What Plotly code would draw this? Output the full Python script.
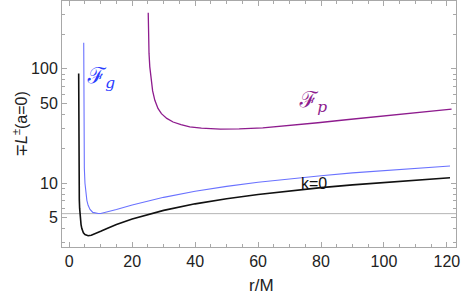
import plotly.graph_objects as go

# k=0 curve (black)
r_k0 = [3.0011, 3.002, 3.005, 3.01, 3.02, 3.035, 3.05, 3.075, 3.1, 3.15, 3.2, 3.3, 3.4, 3.5,
        3.75, 4, 4.5, 5, 5.5, 6, 7, 8, 9, 10, 12, 15, 20, 25, 30, 40, 50, 60, 70, 80, 90,
        100, 110, 121]
L_k0 = [91, 67.1, 42.5, 30.1, 21.4, 16.2, 13.6, 11.2, 9.80, 8.13, 7.16, 6.03, 5.38, 4.95,
        4.33, 4.0, 3.67, 3.54, 3.48, 3.464, 3.5, 3.58, 3.67, 3.78, 4.0, 4.33, 4.85, 5.33,
        5.77, 6.58, 7.29, 7.95, 8.55, 9.12, 9.65, 10.15, 10.63, 11.14]

# F_g curve (blue)
r_g = [4.601, 4.603, 4.605, 4.61, 4.62, 4.65, 4.7, 4.8, 5.0, 5.3, 5.6, 6.0, 6.6, 7.5, 8.5,
       9.2, 10, 12, 15, 20, 25, 30, 40, 50, 60, 70, 80, 90, 100, 110, 121]
L_g = [169, 105.9, 82.0, 58.1, 41.2, 26.2, 18.7, 13.5, 9.97, 7.98, 7.06, 6.39, 5.88, 5.54,
       5.42, 5.41, 5.42, 5.56, 5.86, 6.43, 6.97, 7.50, 8.47, 9.35, 10.16, 10.91, 11.60,
       12.27, 12.90, 13.49, 14.12]

# F_p curve (purple)
r_p = [25.1, 25.2, 25.35, 25.6, 26.0, 26.5, 27.2, 28.2, 29.3, 31, 33, 35.5, 38.3, 42, 48,
       54, 61.5, 70, 79, 88, 96, 104, 112, 121.5]
L_p = [309, 190, 137, 104, 79, 64, 53, 45, 40.5, 36.8, 34.2, 32.4, 31.0, 30.2, 29.7, 29.8,
       30.4, 31.8, 33.7, 35.8, 37.8, 39.8, 42.0, 44.4]

# horizontal reference line
ref_level = 5.4
ref_x = [-2.3, 122.9]

x_ticks = [0, 20, 40, 60, 80, 100, 120]
y_ticks = [5, 10, 50, 100]
y_ticktext = ["5", "10", "50", "100"]
y_minor = [3, 4, 6, 7, 8, 9, 20, 30, 40, 60, 70, 80, 90, 200, 300]

fig = go.Figure()
fig.add_trace(go.Scatter(x=ref_x, y=[ref_level, ref_level], mode="lines",
                         line=dict(color="#b4b4b4", width=1), hoverinfo="skip"))
fig.add_trace(go.Scatter(x=r_p, y=L_p, mode="lines",
                         line=dict(color="#8e1c8e", width=1.3)))
fig.add_trace(go.Scatter(x=r_g, y=L_g, mode="lines",
                         line=dict(color="#6a72ff", width=1.1)))
fig.add_trace(go.Scatter(x=r_k0, y=L_k0, mode="lines",
                         line=dict(color="#111111", width=1.6)))

axis_common = dict(showline=True, linecolor="#a8a8a8", linewidth=1, mirror="allticks",
                   ticks="inside", tickcolor="#a8a8a8", ticklen=5, showgrid=False,
                   zeroline=False,
                   tickfont=dict(family="Liberation Sans, Arial", size=16, color="#222222"))

label_font = "DejaVu Serif, Noto Sans"

fig.update_layout(
    width=463, height=298,
    margin=dict(l=62, r=7, t=1, b=51),
    paper_bgcolor="white", plot_bgcolor="white",
    showlegend=False,
    xaxis=dict(range=[-2.3, 122.9], tickvals=x_ticks,
               minor=dict(dtick=5, tick0=0, ticks="inside", ticklen=3, tickcolor="#a8a8a8"),
               **axis_common),
    yaxis=dict(type="log", range=[0.4406, 2.593], tickvals=y_ticks, ticktext=y_ticktext,
               minor=dict(tickvals=y_minor, ticks="inside", ticklen=3, tickcolor="#a8a8a8"),
               **axis_common),
    annotations=[
        dict(text="<i>ℱ</i><sub><i>g</i></sub>", xref="paper", yref="paper", x=0.058, y=0.755,
             showarrow=False, font=dict(family=label_font, size=22, color="#2a3cff")),
        dict(text="<i>ℱ</i><sub><i>p</i></sub>", xref="paper", yref="paper", x=0.636, y=0.59,
             showarrow=False, font=dict(family=label_font, size=22, color="#8e1c8e")),
        dict(text="k=0", xref="paper", yref="paper", x=0.64, y=0.215,
             showarrow=False, font=dict(family="Liberation Sans, Arial", size=16, color="#111111")),
        dict(text="r/M", xref="paper", yref="paper", x=0.506, y=-0.155, yanchor="middle",
             showarrow=False, font=dict(family="Liberation Sans, Arial", size=17, color="#222222")),
        dict(text="∓<i>L</i><sup>±</sup>(a=0)", xref="paper", yref="paper", x=-0.137, y=0.50,
             textangle=-90, showarrow=False,
             font=dict(family="Liberation Sans, Arial", size=16, color="#222222")),
    ],
)

fig.write_html("out.html", post_script="document.body.style.margin='0';",
               config={"displayModeBar": False})
